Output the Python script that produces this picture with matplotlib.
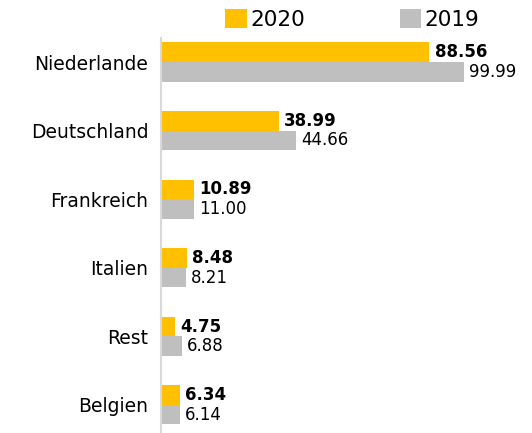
import numpy as np
import matplotlib.pyplot as plt
from matplotlib.patches import Patch

plt.rcParams['font.family'] = ['DejaVu Sans']

countries = ['Niederlande', 'Deutschland', 'Frankreich', 'Italien', 'Rest', 'Belgien']
values_2020 = [88.56, 38.99, 10.89, 8.48, 4.75, 6.34]
values_2019 = [99.99, 44.66, 11.00, 8.21, 6.88, 6.14]

c2020 = '#FFC000'
c2019 = '#BFBFBF'

fig = plt.figure(figsize=(5.32, 4.33), dpi=100)
ax = fig.add_axes([161 / 532, 0.0, 0.695, 395 / 433])

y = np.arange(len(countries))
h = 0.285
ax.barh(y - h / 2, values_2020, height=h, color=c2020)
ax.barh(y + h / 2, values_2019, height=h, color=c2019)

for yi, v in zip(y, values_2020):
    ax.text(v + 1.7, yi - h / 2, f'{v:.2f}', va='center', ha='left',
            fontsize=12, fontweight='bold', color='black')
for yi, v in zip(y, values_2019):
    ax.text(v + 1.7, yi + h / 2, f'{v:.2f}', va='center', ha='left',
            fontsize=12, color='black')

ax.set_xlim(0, 122)
ax.set_ylim(5.41, -0.35)
ax.set_yticks(y)
ax.set_yticklabels(countries, fontsize=13.5)
ax.tick_params(axis='y', length=0, pad=9)
ax.set_xticks([])
for s in ['top', 'right', 'bottom']:
    ax.spines[s].set_visible(False)
ax.spines['left'].set_color('#D9D9D9')
ax.spines['left'].set_linewidth(1.5)

handles = [Patch(facecolor=c2020, label='2020'), Patch(facecolor=c2019, label='2019')]
fig.legend(handles=handles, loc='center', bbox_to_anchor=(0.662, 0.956), ncol=2,
           frameon=False, fontsize=15.5, handlelength=1.0, handleheight=1.0,
           handletextpad=0.15, columnspacing=4.4)

fig.savefig('out.png', dpi=100)
